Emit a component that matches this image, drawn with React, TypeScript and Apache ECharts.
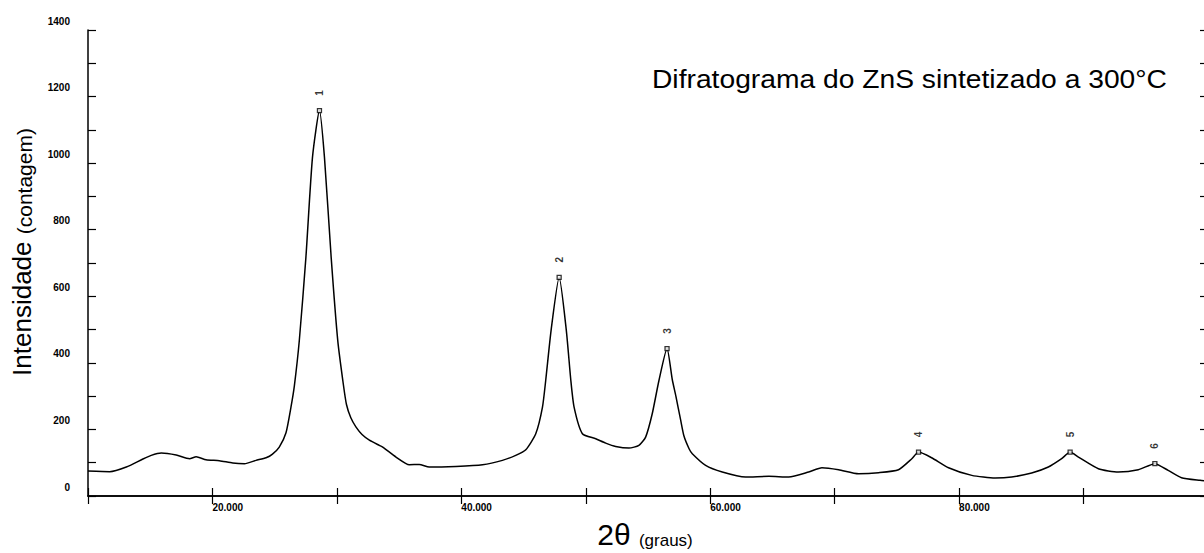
import { useEffect, useRef } from 'react';
import * as echarts from 'echarts';

// 2θ (graus) sampled along the diffractogram trace
const twoTheta = [
  10, 11.74, 13.08, 14.41, 15.08, 15.89, 17.09, 18.16, 18.69, 19.49,
  20.56, 21.63, 22.57, 23.5, 24.31, 24.8, 25.37, 25.91, 26.31, 26.58,
  26.98, 27.51, 28.04, 28.6, 29.0, 29.54, 30.07, 30.52, 30.77, 31.12,
  31.54, 32.02, 32.61, 33.41, 33.68, 34.75, 35.82, 36.62, 37.42, 39.56,
  41.7, 43.3, 44.37, 45.18, 45.98, 46.52, 46.78, 47.22, 47.86, 48.43,
  48.8, 49.06, 49.73, 50.8, 51.6, 52.4, 53.47, 54.27, 54.81, 55.34,
  55.88, 56.53, 56.95, 57.24, 57.63, 57.89, 58.3, 58.56, 59.63, 60.97,
  62.84, 64.71, 66.31, 67.91, 68.98, 70.32, 71.92, 73.53, 75.13, 76.2,
  76.74, 77.79, 79.15, 81.02, 82.89, 84.22, 85.83, 87.17, 88.24, 88.92,
  89.59, 91.19, 92.79, 94.4, 95.73, 96.8, 97.87, 99.36, 100,
];
// Intensidade (contagem)
const intensity = [
  75, 73, 87, 111, 122, 129, 123, 112, 118, 109,
  106, 99, 97, 107, 115, 125, 147, 190, 267, 330,
  467, 717, 1018, 1158, 1018, 717, 467, 335, 275, 235,
  207, 185, 168, 152, 147, 117, 94, 95, 87, 89,
  94, 107, 122, 139, 187, 267, 347, 500, 657, 500,
  347, 267, 187, 172, 159, 149, 144, 152, 177, 247,
  347, 443, 350, 300, 227, 180, 142, 127, 92, 72,
  57, 59, 57, 72, 85, 79, 67, 70, 79, 112,
  132, 115, 85, 62, 54, 57, 69, 87, 112, 132,
  117, 82, 72, 79, 97, 77, 55, 47, 45,
];

const peakTheta = [28.6, 47.86, 56.53, 76.74, 88.92, 95.73];
const peakIntensity = [1158, 657, 443, 132, 132, 97];
const peakLabels = ['1', '2', '3', '4', '5', '6'];

const xLabelValues = [20, 40, 60, 80];
const yLabelValues = [0, 200, 400, 600, 800, 1000, 1200, 1400];

const titleText = 'Difratograma do ZnS sintetizado a 300°C';

export default function App() {
  const ref = useRef<HTMLDivElement>(null);

  useEffect(() => {
    if (!ref.current) return;
    const chart = echarts.init(ref.current, null, { renderer: 'svg' });
    const tickFont = {
      fontFamily: '"Liberation Sans", Arial, sans-serif',
      fontWeight: 'bold' as const,
      fontSize: 10,
      color: '#000',
    };
    const axisLine = { show: true, lineStyle: { color: '#000', width: 1.5 } };
    const axisTick = { show: true, inside: true, length: 8, lineStyle: { color: '#000', width: 1.2 } };

    chart.setOption({
      animation: false,
      backgroundColor: '#fff',
      grid: { left: 88, right: 0, top: 30, bottom: 57, containLabel: false },
      xAxis: [
        {
          type: 'value', min: 10, max: 100, interval: 10, position: 'bottom',
          axisLine, axisTick,
          axisLabel: {
            ...tickFont, align: 'left', margin: 6,
            formatter: (v: number) => (xLabelValues.includes(v) ? v.toFixed(3) : ''),
          },
          splitLine: { show: false },
        },
        {
          type: 'value', min: 10, max: 100, interval: 10, position: 'top',
          axisLine, axisTick, axisLabel: { show: false }, splitLine: { show: false },
        },
      ],
      yAxis: [
        {
          type: 'value', min: 0, max: 1400, interval: 100, position: 'left',
          axisLine, axisTick,
          axisLabel: {
            ...tickFont, align: 'right', margin: 18, verticalAlign: 'bottom',
            lineHeight: 18,
            formatter: (v: number) => (yLabelValues.includes(v) ? String(v) : ''),
          },
          splitLine: { show: false },
        },
        {
          type: 'value', min: 0, max: 1400, interval: 100, position: 'right',
          axisLine, axisTick, axisLabel: { show: false }, splitLine: { show: false },
        },
      ],
      series: [
        {
          type: 'line',
          data: twoTheta.map((t, i) => [t, intensity[i]]),
          showSymbol: false,
          smooth: 0.2,
          lineStyle: { color: '#000', width: 1.5 },
          z: 2,
        },
        {
          type: 'scatter',
          data: peakTheta.map((t, i) => [t, peakIntensity[i]]),
          symbol: 'rect',
          symbolSize: 4,
          itemStyle: { color: '#fff', borderColor: '#000', borderWidth: 1.3 },
          label: {
            show: true,
            position: 'top',
            distance: 15,
            rotate: 90,
            align: 'center',
            verticalAlign: 'middle',
            fontFamily: '"Liberation Sans", Arial, sans-serif',
            fontWeight: 'bold',
            fontSize: 10,
            color: '#000',
            formatter: (p: any) => peakLabels[p.dataIndex],
          },
          z: 3,
        },
      ],
      graphic: [
        {
          type: 'text',
          x: 1167,
          y: 80,
          scaleX: 1.13,
          style: {
            text: titleText,
            fontSize: 25,
            fontFamily: 'Liberation Sans',
            fill: '#000',
            align: 'right',
            verticalAlign: 'middle',
          },
        },
        {
          type: 'text',
          x: 22,
          y: 252,
          rotation: Math.PI / 2,
          style: {
            text: '{a|Intensidade }{b|(contagem)}',
            rich: {
              a: { fontSize: 26, fontFamily: 'Liberation Sans', fill: '#000', verticalAlign: 'bottom' },
              b: { fontSize: 21, fontFamily: 'Liberation Sans', fill: '#000', verticalAlign: 'bottom' },
            },
            align: 'center',
            verticalAlign: 'middle',
            fill: '#000',
          },
        },
        {
          type: 'text',
          x: 645,
          y: 534,
          style: {
            text: '{a|2θ }{b|(graus)}',
            rich: {
              a: { fontSize: 30, fontFamily: 'Liberation Sans', fill: '#000', verticalAlign: 'bottom' },
              b: { fontSize: 17, fontFamily: 'Liberation Sans', fill: '#000', verticalAlign: 'bottom' },
            },
            align: 'center',
            verticalAlign: 'middle',
            fill: '#000',
          },
        },
      ],
    });

    return () => chart.dispose();
  }, []);

  return (
    <div
      style={{
        position: 'absolute', left: 0, top: 0, width: 1204, height: 553,
        overflow: 'hidden', background: '#fff',
      }}
    >
      <div ref={ref} style={{ width: 1211, height: 553 }} />
    </div>
  );
}
